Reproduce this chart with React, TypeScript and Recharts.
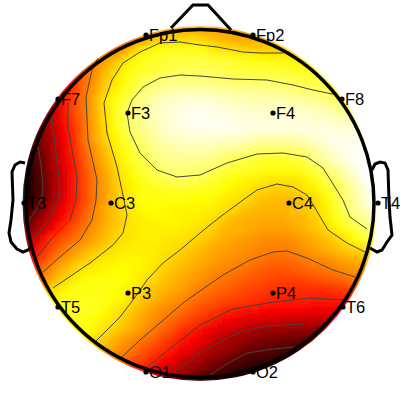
import { ScatterChart, Scatter, XAxis, YAxis, ReferenceDot, LabelList } from 'recharts';

// scalp map sampled every 10 units, value 0-100 on the hot colour scale
const gridX = [25, 35, 45, 55, 65, 75, 85, 95, 105, 115, 125, 135, 145, 155, 165, 175, 185, 195, 205, 215, 225, 235, 245, 255, 265, 275, 285, 295, 305, 315, 325, 335, 345, 355, 365, 375];
const gridY = [30, 40, 50, 60, 70, 80, 90, 100, 110, 120, 130, 140, 150, 160, 170, 180, 190, 200, 210, 220, 230, 240, 250, 260, 270, 280, 290, 300, 310, 320, 330, 340, 350, 360, 370, 380];
const gridRows = [
  [38, 38, 38, 40, 42, 44, 46, 48, 48, 50, 52, 54, 56, 58, 60, 61, 62, 62, 62, 61, 61, 61, 60, 60, 60, 60, 60, 60, 60, 60, 60, 60, 60, 60, 60, 60],
  [36, 36, 36, 38, 40, 42, 44, 46, 48, 50, 54, 58, 62, 66, 69, 70, 70, 70, 68, 66, 64, 62, 62, 62, 62, 62, 62, 62, 62, 62, 62, 62, 62, 62, 62, 62],
  [34, 34, 36, 38, 40, 42, 44, 46, 48, 52, 60, 68, 73, 75, 77, 77, 77, 77, 76, 72, 71, 70, 69, 68, 68, 68, 68, 66, 66, 66, 66, 66, 66, 66, 66, 66],
  [30, 30, 32, 36, 38, 42, 46, 55, 60, 65, 70, 75, 78, 79, 80, 81, 81, 81, 81, 80, 79, 78, 77, 76, 75, 74, 74, 73, 72, 72, 72, 72, 72, 72, 72, 72],
  [26, 28, 30, 34, 38, 42, 52, 58, 64, 69, 74, 77, 78, 80, 81, 82, 83, 83, 83, 83, 82, 81, 81, 80, 80, 79, 79, 78, 78, 78, 78, 78, 78, 78, 78, 78],
  [22, 24, 26, 30, 36, 46, 53, 59, 66, 71, 75, 79, 83, 84, 86, 87, 87, 87, 87, 86, 85, 84, 84, 84, 84, 83, 83, 82, 81, 81, 81, 80, 80, 80, 80, 80],
  [18, 20, 22, 28, 38, 46, 54, 61, 68, 73, 77, 81, 86, 88, 90, 91, 91, 91, 91, 90, 90, 89, 89, 89, 88, 88, 87, 86, 85, 84, 83, 82, 82, 82, 82, 82],
  [14, 16, 20, 30, 40, 48, 55, 63, 71, 76, 80, 85, 89, 92, 94, 95, 96, 96, 96, 95, 94, 93, 93, 92, 92, 92, 92, 91, 90, 89, 87, 85, 83, 83, 83, 83],
  [12, 15, 20, 30, 40, 49, 55, 63, 70, 76, 83, 87, 90, 93, 95, 96, 98, 98, 98, 97, 96, 96, 95, 95, 95, 95, 95, 94, 94, 93, 92, 90, 88, 86, 86, 86],
  [12, 16, 22, 30, 39, 47, 54, 63, 70, 76, 82, 87, 90, 93, 95, 97, 98, 99, 99, 98, 98, 97, 97, 97, 96, 96, 96, 96, 96, 95, 95, 94, 93, 92, 92, 92],
  [10, 14, 21, 29, 37, 45, 54, 62, 69, 75, 81, 86, 89, 92, 94, 96, 97, 98, 98, 98, 98, 98, 97, 97, 97, 97, 97, 97, 97, 97, 97, 96, 96, 96, 96, 96],
  [8, 13, 20, 28, 36, 44, 54, 62, 68, 74, 79, 84, 87, 90, 93, 94, 95, 95, 95, 95, 95, 95, 93, 92, 91, 91, 91, 91, 93, 95, 97, 98, 98, 98, 98, 98],
  [6, 12, 19, 27, 35, 43, 52, 59, 65, 72, 76, 81, 85, 88, 90, 91, 92, 92, 92, 91, 89, 89, 87, 86, 85, 85, 85, 86, 87, 90, 93, 96, 98, 99, 99, 99],
  [5, 11, 18, 26, 35, 42, 50, 58, 64, 70, 75, 79, 83, 87, 88, 89, 89, 89, 89, 88, 85, 83, 82, 80, 79, 79, 79, 80, 82, 87, 91, 94, 97, 99, 100, 100],
  [3, 9, 16, 25, 33, 41, 49, 56, 62, 68, 73, 77, 81, 83, 86, 87, 87, 86, 85, 83, 81, 80, 79, 78, 77, 76, 76, 76, 78, 81, 84, 89, 93, 97, 100, 100],
  [2, 8, 16, 25, 33, 41, 48, 55, 61, 67, 72, 75, 78, 81, 82, 83, 83, 83, 82, 79, 77, 75, 74, 73, 72, 71, 71, 71, 73, 76, 81, 84, 89, 94, 99, 100],
  [1, 8, 15, 24, 33, 41, 48, 55, 61, 66, 71, 74, 76, 77, 78, 79, 79, 78, 78, 77, 75, 73, 72, 70, 69, 68, 68, 69, 71, 73, 77, 81, 86, 91, 96, 100],
  [1, 7, 16, 25, 34, 41, 48, 55, 61, 66, 71, 74, 76, 76, 76, 76, 76, 75, 75, 74, 72, 71, 70, 67, 66, 65, 65, 65, 67, 69, 74, 79, 85, 90, 95, 99],
  [3, 14, 21, 30, 37, 43, 50, 57, 62, 66, 70, 73, 75, 75, 75, 74, 74, 74, 73, 72, 71, 69, 66, 65, 64, 64, 64, 65, 67, 69, 73, 78, 83, 89, 93, 97],
  [10, 18, 26, 33, 39, 46, 52, 58, 62, 66, 69, 72, 73, 74, 74, 74, 73, 73, 72, 70, 67, 64, 63, 63, 62, 62, 63, 64, 65, 68, 71, 76, 80, 85, 89, 93],
  [13, 24, 31, 38, 45, 51, 55, 60, 64, 67, 70, 72, 73, 73, 73, 73, 72, 71, 70, 67, 64, 64, 63, 62, 61, 61, 61, 62, 64, 66, 69, 73, 76, 80, 84, 87],
  [20, 30, 39, 46, 50, 54, 58, 62, 65, 69, 71, 72, 73, 73, 72, 71, 71, 69, 67, 65, 63, 61, 60, 59, 58, 58, 58, 59, 61, 63, 65, 68, 71, 75, 79, 82],
  [25, 36, 44, 50, 55, 60, 63, 66, 69, 71, 72, 73, 73, 72, 71, 70, 68, 66, 64, 62, 61, 60, 59, 58, 57, 56, 56, 57, 59, 61, 63, 65, 67, 69, 71, 74],
  [30, 41, 48, 55, 60, 64, 67, 70, 72, 73, 74, 74, 73, 72, 70, 68, 66, 64, 63, 61, 59, 58, 57, 55, 54, 53, 53, 54, 55, 57, 58, 60, 62, 63, 65, 65],
  [35, 48, 55, 60, 65, 69, 72, 73, 74, 75, 75, 74, 73, 71, 68, 66, 64, 62, 60, 58, 57, 55, 54, 52, 51, 50, 50, 51, 52, 54, 55, 56, 58, 59, 59, 59],
  [40, 50, 58, 64, 69, 73, 75, 76, 76, 76, 75, 73, 71, 69, 66, 64, 62, 60, 58, 56, 54, 53, 51, 50, 49, 48, 47, 47, 48, 49, 50, 51, 53, 55, 56, 56],
  [50, 58, 65, 71, 74, 76, 77, 77, 77, 76, 74, 72, 69, 66, 64, 62, 60, 57, 55, 53, 52, 50, 48, 47, 46, 45, 44, 44, 44, 44, 44, 45, 46, 48, 48, 48],
  [55, 62, 68, 74, 77, 78, 78, 78, 77, 75, 73, 69, 66, 64, 61, 59, 57, 54, 52, 50, 48, 47, 46, 44, 43, 42, 42, 42, 42, 41, 41, 41, 41, 41, 41, 41],
  [60, 66, 70, 75, 78, 79, 79, 78, 75, 72, 70, 66, 63, 60, 58, 56, 53, 50, 48, 46, 43, 42, 40, 39, 38, 37, 37, 37, 37, 36, 36, 36, 36, 36, 36, 36],
  [64, 68, 72, 76, 78, 78, 77, 75, 73, 71, 67, 64, 61, 58, 55, 52, 49, 46, 44, 41, 38, 36, 34, 33, 31, 31, 30, 30, 29, 29, 29, 29, 29, 29, 29, 29],
  [66, 70, 74, 76, 77, 77, 76, 74, 71, 68, 65, 62, 59, 55, 52, 48, 44, 41, 37, 34, 31, 29, 27, 25, 24, 23, 23, 22, 22, 21, 20, 20, 20, 20, 20, 20],
  [66, 70, 72, 74, 75, 75, 74, 70, 67, 64, 60, 57, 54, 51, 47, 43, 40, 37, 33, 29, 26, 24, 22, 20, 18, 17, 16, 15, 14, 13, 13, 13, 13, 13, 13, 13],
  [66, 68, 70, 70, 70, 70, 68, 66, 64, 60, 57, 54, 50, 46, 43, 39, 36, 32, 28, 25, 22, 20, 17, 15, 14, 12, 11, 10, 10, 10, 10, 10, 10, 10, 10, 10],
  [60, 60, 60, 60, 60, 60, 60, 60, 60, 57, 53, 49, 46, 42, 38, 34, 29, 26, 23, 20, 17, 14, 11, 9, 8, 7, 6, 6, 6, 6, 6, 6, 6, 6, 6, 6],
  [48, 48, 48, 48, 48, 48, 48, 48, 48, 46, 44, 44, 41, 37, 32, 28, 24, 21, 17, 13, 10, 8, 6, 5, 4, 4, 4, 4, 4, 4, 4, 4, 4, 4, 4, 4],
  [36, 36, 36, 36, 36, 36, 36, 36, 36, 36, 36, 34, 32, 28, 24, 18, 14, 10, 8, 6, 5, 4, 4, 4, 4, 4, 4, 4, 4, 4, 4, 4, 4, 4, 4, 4],
];

const electrodes = [
  { name: 'Fp1', x: 146, y: 35 },
  { name: 'Fp2', x: 253, y: 35 },
  { name: 'F7', x: 58, y: 99 },
  { name: 'F8', x: 342, y: 99 },
  { name: 'F3', x: 128, y: 113 },
  { name: 'F4', x: 273, y: 113 },
  { name: 'T3', x: 24, y: 203 },
  { name: 'C3', x: 111, y: 203 },
  { name: 'C4', x: 289, y: 203 },
  { name: 'T4', x: 378, y: 203 },
  { name: 'P3', x: 128, y: 293 },
  { name: 'P4', x: 273, y: 293 },
  { name: 'T5', x: 58, y: 307 },
  { name: 'T6', x: 343, y: 307 },
  { name: 'O1', x: 146, y: 372 },
  { name: 'O2', x: 253, y: 372 },
];

const toPoints = (pairs: number[][]) => pairs.map(([x, y]) => ({ x, y }));

const nose = toPoints([[171, 28], [193, 5], [208, 5], [231, 30]]);
const leftEar = toPoints([[25, 163], [20, 162], [15, 165], [12, 172], [13, 200], [11, 220], [9, 233], [11, 242], [17, 249], [23, 252], [28, 250], [32, 246]]);
const rightEar = toPoints([[372, 170], [375, 164], [380, 162], [385, 163], [388, 170], [389, 200], [390, 217], [392, 235], [387, 242], [382, 250], [377, 252], [370, 248]]);

const contours = [
  [[38, 147], [41, 165], [43, 185], [42, 197], [37, 208], [28, 222]],
  [[52, 118], [58, 170], [60, 187], [58, 200], [47, 223], [32, 240]],
  [[68, 103], [68, 127], [77, 177], [76, 200], [70, 220], [53, 237], [37, 257]],
  [[98, 58], [92, 70], [86, 97], [88, 140], [97, 180], [96, 200], [92, 220], [80, 240], [60, 257], [43, 272]],
  [[283, 53], [260, 53], [243, 52], [217, 47], [200, 45], [180, 42], [160, 43], [140, 52], [123, 63], [112, 80], [104, 103], [107, 133], [117, 167], [124, 200], [127, 215], [123, 233], [113, 245], [90, 263], [53, 288]],
  [[337, 95], [313, 90], [293, 85], [267, 80], [233, 79], [200, 76], [180, 75], [160, 78], [143, 87], [132, 100], [127, 113], [130, 132], [140, 153], [157, 170], [177, 177], [200, 175], [227, 163], [257, 154], [283, 153], [307, 157], [323, 168], [343, 200], [350, 217], [367, 229]],
  [[95, 342], [100, 337], [120, 317], [133, 300], [147, 280], [163, 263], [180, 250], [200, 233], [220, 217], [243, 200], [257, 190], [277, 184], [293, 187], [307, 195], [315, 208], [328, 230], [347, 243], [367, 253]],
  [[122, 357], [140, 340], [160, 323], [183, 303], [200, 291], [223, 275], [250, 260], [273, 252], [287, 251], [307, 258], [333, 270], [355, 277]],
  [[147, 367], [177, 343], [200, 325], [233, 309], [267, 303], [310, 298], [345, 300]],
  [[173, 373], [200, 353], [220, 342], [240, 332], [267, 326], [303, 324]],
  [[210, 375], [230, 362], [247, 353], [273, 349], [295, 347]],
].map(toPoints);

const heatCells = gridRows.flatMap((row, r) =>
  row.map((value, c) => ({ x: gridX[c], y: gridY[r], value })),
);

// black -> red -> yellow -> white
function hot(value: number) {
  const v = value / 100;
  const clamp = (n: number) => Math.round(255 * Math.min(1, Math.max(0, n)));
  return `rgb(${clamp(v / 0.375)},${clamp((v - 0.375) / 0.375)},${clamp((v - 0.75) / 0.25)})`;
}

const HeatCell = (props: any) => (
  <rect
    x={props.cx - 5.5}
    y={props.cy - 5.5}
    width={11}
    height={11}
    fill={hot(props.payload.value)}
  />
);

const NoMark = () => null;

const ElectrodeDot = (props: any) => <circle cx={props.cx} cy={props.cy} r={2.6} fill="#000" />;

const ElectrodeLabel = (props: any) => (
  <text
    x={props.x + props.width / 2 + 3}
    y={props.y + props.height / 2 + 6}
    fill="#000"
    fontSize={16.5}
    fontFamily="'Liberation Sans', Arial, sans-serif"
  >
    {props.value}
  </text>
);

export default function App() {
  return (
    <div style={{ position: 'absolute', left: 0, top: 0, width: 400, height: 400 }}>
      <style>{`.heat { filter: url(#soften); clip-path: url(#scalp); }`}</style>
      <ScatterChart width={400} height={400} margin={{ top: 0, right: 0, bottom: 0, left: 0 }}>
        <defs>
          <filter id="soften" x="0" y="0" width="400" height="400" filterUnits="userSpaceOnUse">
            <feGaussianBlur stdDeviation="3.5" />
          </filter>
          <clipPath id="scalp">
            <circle cx={200} cy={203.5} r={177.5} />
          </clipPath>
        </defs>
        <XAxis type="number" dataKey="x" domain={[0, 400]} hide />
        <YAxis type="number" dataKey="y" domain={[0, 400]} reversed hide />
        <Scatter className="heat" data={heatCells} shape={HeatCell} isAnimationActive={false} />
        {contours.map((points, i) => (
          <Scatter
            key={i}
            data={points}
            line={{ stroke: '#444', strokeWidth: 1 }}
            shape={NoMark}
            isAnimationActive={false}
          />
        ))}
        {[nose, leftEar, rightEar].map((points, i) => (
          <Scatter
            key={i}
            data={points}
            line={{ stroke: '#000', strokeWidth: 3 }}
            shape={NoMark}
            isAnimationActive={false}
          />
        ))}
        <ReferenceDot x={200} y={203.5} r={174} fill="none" stroke="#000" strokeWidth={3.5} />
        <Scatter data={electrodes} shape={ElectrodeDot} isAnimationActive={false}>
          <LabelList dataKey="name" content={ElectrodeLabel} />
        </Scatter>
      </ScatterChart>
    </div>
  );
}
